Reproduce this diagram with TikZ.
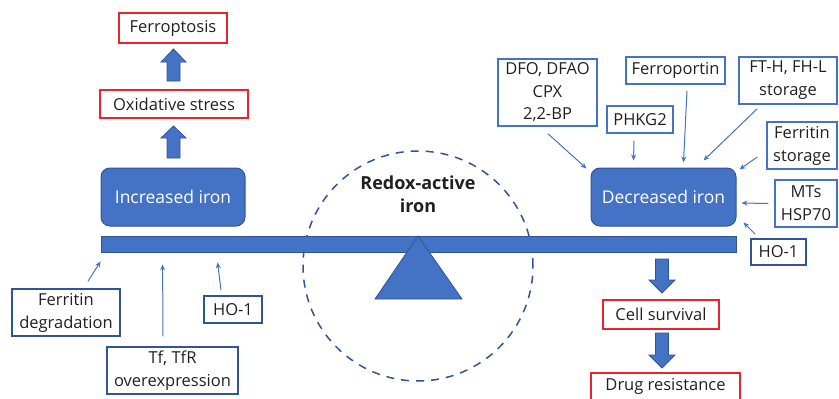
\documentclass[tikz,border=0pt]{standalone}
\usepackage{fontspec}
\setmainfont{Open Sans}
\usetikzlibrary{calc,arrows.meta}
\definecolor{bfill}{HTML}{4472C4}
\definecolor{bdark}{HTML}{2F5597}
\definecolor{bline}{HTML}{4472C4}
\definecolor{rline}{HTML}{E8262A}
\definecolor{txt}{HTML}{231F20}
\tikzset{
  base/.style={font=\fontsize{16.5}{19}\selectfont, text=txt, align=center, inner sep=0pt},
  two/.style={font=\fontsize{16.5}{23}\selectfont},
  redbox/.style={base, draw=rline, line width=1.5pt},
  lbox/.style={base, draw=bline, line width=1.5pt},
  dbox/.style={base, draw=bdark, line width=1.5pt},
  ironbox/.style={base, font=\fontsize{17.5}{20}\selectfont, fill=bfill, draw=bdark, line width=1pt, rounded corners=9pt, text=white},
  thinarr/.style={draw=bline, line width=1pt, -{Stealth[length=6pt,width=5pt]}},
  blockarr/.style={fill=bfill, draw=bdark, line width=0.8pt},
}
\begin{document}
\begin{tikzpicture}[x=1pt,y=-1pt]
\useasboundingbox (0,0) rectangle (839,399);
% dashed circle
\node[draw=bdark, dash pattern=on 8pt off 7pt, line width=1.5pt, circle, minimum size=230pt, inner sep=0pt] (circ) at (418,266) {};
% beam and fulcrum
\node[fill=bfill, draw=bdark, line width=0.8pt, minimum width=635pt, minimum height=16pt, inner sep=0pt] (beam) at (418.5,244) {};
\draw[fill=bfill, draw=bdark, line width=0.8pt] (418,236) -- (462,299) -- (375,299) -- cycle;
\node[base, font=\fontsize{18}{22.5}\selectfont\bfseries] (redox) at (418,194) {Redox-active\\iron};
% left column
\node[ironbox, minimum width=144pt, minimum height=58pt] (inc) at (173,197) {Increased iron};
\node[redbox, minimum width=148pt, minimum height=28pt] (ox) at (174,104) {Oxidative stress};
\node[redbox, minimum width=108pt, minimum height=30pt] (ferro) at (173,28) {Ferroptosis};
\draw[blockarr] (167,158) -- (180,158) -- (180,138) -- (186,138) -- (173.5,126) -- (161,138) -- (167,138) -- cycle;
\draw[blockarr] (167,81) -- (180,81) -- (180,62) -- (186,62) -- (173.5,49) -- (161,62) -- (167,62) -- cycle;
% left bottom boxes
\node[dbox, two, minimum width=108pt, minimum height=47pt] (fdeg) at (66,312.5) {Ferritin\\degradation};
\node[dbox, two, minimum width=131pt, minimum height=47pt] (tf) at (172.5,370.5) {Tf, TfR\\overexpression};
\node[dbox, minimum width=58pt, minimum height=27pt] (hol) at (233,309.5) {HO-1};
\draw[thinarr] ($(fdeg.north)+(22,-7)$) -- ($(beam.south west)+(0,9)$);
\draw[thinarr] ($(tf.north)+(-9.5,-10)$) -- ($(beam.south west)+(62,12)$);
\draw[thinarr] ($(hol.north)+(-12,-5)$) -- ($(beam.south west)+(117,10)$);
% right column
\node[ironbox, minimum width=145pt, minimum height=58pt] (dec) at (663.5,197) {Decreased iron};
\draw[blockarr] (655.5,259) -- (668.5,259) -- (668.5,280) -- (675,280) -- (662,293) -- (649,280) -- (655.5,280) -- cycle;
\node[redbox, minimum width=116pt, minimum height=29pt] (cell) at (661,314.5) {Cell survival};
\draw[blockarr] (655.5,333) -- (668.5,333) -- (668.5,355) -- (675,355) -- (662,368) -- (649,355) -- (655.5,355) -- cycle;
\node[redbox, minimum width=149pt, minimum height=28pt, anchor=north] (drug) at (665.5,372) {Drug resistance};
% right top boxes
\node[lbox, font=\fontsize{16.5}{22.5}\selectfont, minimum width=99pt, minimum height=67pt] (dfo) at (547.5,92.5) {DFO, DFAO\\CPX\\2,2-BP};
\node[lbox, minimum width=99pt, minimum height=27pt] (fpn) at (675.5,70.5) {Ferroportin};
\node[lbox, two, minimum width=98pt, minimum height=47pt] (fth) at (788,80.5) {FT-H, FH-L\\storage};
\node[lbox, minimum width=66pt, minimum height=27pt] (phk) at (640,119.5) {PHKG2};
\node[lbox, two, minimum width=70pt, minimum height=47pt] (fst) at (802,145.5) {Ferritin\\storage};
\node[lbox, two, minimum width=62pt, minimum height=47pt] (mts) at (806,203.5) {MTs\\HSP70};
\node[dbox, minimum width=55pt, minimum height=26pt] (hor) at (778.5,252) {HO-1};
\draw[thinarr] ($(dfo.south)+(0.5,7)$) -- ($(dec.north west)+(-4,1)$);
\draw[thinarr] ($(phk.south)+(-6,7)$) -- ($(dec.north west)+(43,-7)$);
\draw[thinarr] ($(fpn.south)+(11.5,6)$) -- ($(dec.north west)+(93,-5)$);
\draw[thinarr] ($(fth.south west)+(19,4)$) -- ($(dec.north east)+(-33,-7)$);
\draw[thinarr] ($(fst.west)+(-9,11.5)$) -- ($(dec.north east)+(3,2)$);
\draw[thinarr] ($(mts.west)+(-6,0)$) -- ($(dec.east)+(5,6)$);
\draw[thinarr] ($(hor.north west)+(5,-4)$) -- ($(dec.south east)+(7,-4)$);
\end{tikzpicture}
\end{document}
